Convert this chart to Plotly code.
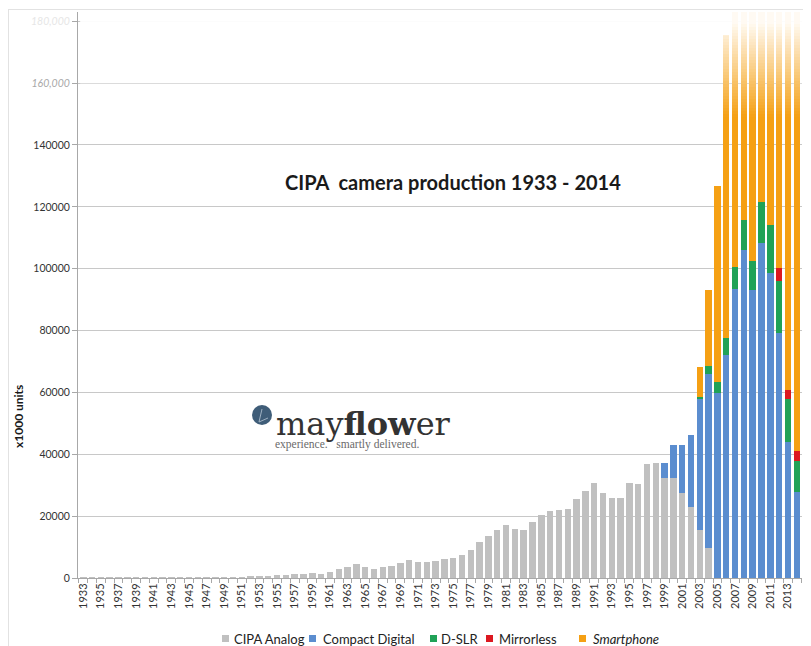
import plotly.graph_objects as go

# ---------------- data (x1000 units) ----------------
years = list(range(1933, 2015))

analog = [30, 40, 50, 60, 80, 90, 100, 100, 80, 50, 40, 20, 10, 30, 60, 100, 150, 200,
          300, 400, 600, 700, 900, 1000, 1300, 1200, 1600, 1400,
          1830, 2800, 3670, 4420, 3560, 2900, 3560, 3990, 4740, 5710, 5070, 5070, 5600,
          6250, 6470, 7550, 9160, 11640, 13580, 15630, 17250, 15740, 15520, 18220,
          20480, 21560, 22000, 22200, 25650, 28240, 30830, 27600, 25980, 25980, 30620,
          30300, 36770, 37080, 32240, 32450, 27600, 22860, 15520, 9600,
          0, 0, 0, 0, 0, 0, 0, 0, 0, 0]

compact_years = list(range(1999, 2015))
compact_vals = [4950, 10670, 15520, 23390, 42260, 56370, 59720, 72120, 93370, 106080,
                93140, 108440, 98540, 79330, 44080, 27710]

dslr_years = list(range(2003, 2015))
dslr_vals = [860, 2590, 3770, 5390, 7310, 9700, 9480, 13260, 15520, 16720, 13710, 10030]

mirrorless_years = [2012, 2013, 2014]
mirrorless_vals = [4300, 3010, 3430]

smartphone_years = list(range(2003, 2015))
smartphone_vals = [9700, 24580, 63280, 98090, 122000, 139000, 172000, 297000, 472000,
                   680000, 1000000, 1300000]

series_names = ["CIPA Analog", "Compact Digital", "D-SLR", "Mirrorless", "Smartphone"]
colors = ["#c0c0c0", "#5b8dcf", "#20a257", "#dc1820", "#f5a014"]

y_tickvals = [0, 20000, 40000, 60000, 80000, 100000, 120000, 140000, 160000, 180000]
y_ticktext = ["0", "20000", "40000", "60000", "80000", "100000", "120000", "140000",
              "<i><span style='color:#a8a8a8'>160,000</span></i>",
              "<i><span style='color:#e6e6e6'>180,000</span></i>"]
x_tickvals = list(range(1933, 2014, 2))
x_ticktext = [str(y) for y in x_tickvals]

# ---------------- layout geometry ----------------
# page body has an 8px margin: the figure's origin sits at screen (8, 8)
W, H = 811, 646
OFF = 8
L, R, T, B = 78, 802, 12, 578          # plot area in screen pixels


def px(x):
    return (x - L) / (R - L)


def py(y):
    return (B - y) / (B - T)


FONT = "Lato, 'Open Sans', sans-serif"

fig = go.Figure()
for name, xs, vs, c in [
    (series_names[0], years, analog, colors[0]),
    (series_names[1], compact_years, compact_vals, colors[1]),
    (series_names[2], dslr_years, dslr_vals, colors[2]),
    (series_names[3], mirrorless_years, mirrorless_vals, colors[3]),
    (series_names[4], smartphone_years, smartphone_vals, colors[4]),
]:
    fig.add_trace(go.Bar(x=xs, y=vs, name=name, marker=dict(color=c, line=dict(width=0)),
                         showlegend=False))

shapes = []
annotations = []

# fade-out of the top of the plot
for yy in range(T, 116, 3):
    a = min(0.95, max(0.0, (116 - yy) / 100.0))
    shapes.append(dict(type="rect", xref="paper", yref="paper", x0=0.003, x1=1,
                       y0=py(yy + 3), y1=py(yy), fillcolor="white", opacity=a,
                       line=dict(width=0), layer="above"))

# outer light frame
shapes.append(dict(type="line", xref="paper", yref="paper", x0=px(8.5), x1=px(8.5),
                   y0=py(9), y1=py(660), line=dict(color="#e2e2e2", width=1)))
shapes.append(dict(type="line", xref="paper", yref="paper", x0=px(8), x1=px(830),
                   y0=py(9.5), y1=py(9.5), line=dict(color="#e2e2e2", width=1)))

# title
annotations.append(dict(text="CIPA\u00a0 camera production 1933 - 2014", xref="paper",
                        yref="paper", x=px(453), y=py(182), showarrow=False,
                        xanchor="center", yanchor="middle",
                        font=dict(family=FONT, size=20, color="#1a1a1a", weight="bold")))

# y-axis title
annotations.append(dict(text="<b>x1000 units</b>", xref="paper", yref="paper",
                        x=px(18), y=py(417), textangle=-90, showarrow=False,
                        xanchor="center", yanchor="middle",
                        font=dict(family=FONT, size=12, color="#1a1a1a")))

# logo
shapes.append(dict(type="circle", xref="paper", yref="paper", x0=px(252), x1=px(272),
                   y0=py(425), y1=py(405), fillcolor="#3f5d78", line=dict(width=0),
                   layer="above"))
shapes.append(dict(type="path", xref="paper", yref="paper",
                   path=f"M {px(259)},{py(422)} L {px(262)},{py(409)} M {px(259)},{py(422)} L {px(268)},{py(418)}",
                   line=dict(color="#9fb1c2", width=1), layer="above"))
annotations.append(dict(text="may<b>flow</b>er", xref="paper", yref="paper",
                        x=px(274), y=py(424), showarrow=False, xanchor="left",
                        yanchor="middle",
                        font=dict(family="DejaVu Serif", size=32, color="#333333")))
annotations.append(dict(text="experience.\u00a0\u00a0 smartly delivered.", xref="paper",
                        yref="paper", x=px(273), y=py(444), showarrow=False,
                        xanchor="left", yanchor="middle",
                        font=dict(family="Liberation Serif", size=11.5, color="#6a6a6a")))

# legend (manual)
leg_items = [(222, 232), (309, 321), (430, 439), (486, 497), (579, 591)]
for (sx, tx), name, c in zip(leg_items, series_names, colors):
    shapes.append(dict(type="rect", xref="paper", yref="paper", x0=px(sx), x1=px(sx + 7),
                       y0=py(642), y1=py(635), fillcolor=c, line=dict(width=0)))
    txt = f"<i>{name}</i>" if name == "Smartphone" else name
    annotations.append(dict(text=txt, xref="paper", yref="paper", x=px(tx), y=py(638.5),
                            showarrow=False, xanchor="left", yanchor="middle",
                            font=dict(family=FONT, size=13, color="#222222")))

fig.update_layout(
    width=W, height=H,
    margin=dict(l=L - OFF, r=W - (R - OFF), t=T - OFF, b=H - (B - OFF), pad=0),
    paper_bgcolor="white", plot_bgcolor="white",
    barmode="stack", bargap=0.27,
    shapes=shapes, annotations=annotations,
    showlegend=False,
    font=dict(family=FONT, color="#333333"),
)
fig.update_xaxes(
    range=[1932.4, 2014.6], tickmode="array", tickvals=x_tickvals, ticktext=x_ticktext,
    tickangle=-90, tickfont=dict(family=FONT, size=11, color="#333333"),
    ticks="", showgrid=False, zeroline=False,
    showline=True, linecolor="#a8a8a8", linewidth=1,
    minor=dict(tick0=1932.5, dtick=1, ticks="outside", ticklen=4, tickcolor="#a8a8a8"),
)
fig.update_yaxes(
    range=[0, 183000], tickmode="array", tickvals=y_tickvals, ticktext=y_ticktext,
    tickfont=dict(family=FONT, size=10.5, color="#333333"),
    ticks="outside", ticklen=5, tickcolor="#a8a8a8",
    showgrid=True, gridcolor="#c8c8c8", gridwidth=1, zeroline=False,
    showline=True, linecolor="#a8a8a8", linewidth=1,
)

fig.write_html("out.html")
